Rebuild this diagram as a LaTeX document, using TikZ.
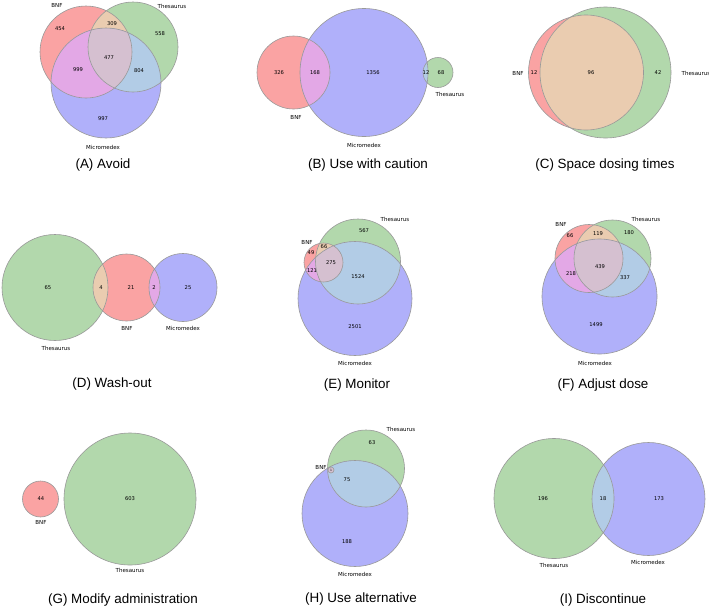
\documentclass[tikz,border=0pt]{standalone}
\usepackage{fontspec}
\setmainfont{Liberation Sans}
\newfontfamily\dvfont{DejaVu Sans}
\definecolor{cR}{RGB}{250,163,163}
\definecolor{cG}{RGB}{178,216,172}
\definecolor{cB}{RGB}{176,176,250}
\definecolor{cRG}{RGB}{234,204,176}
\definecolor{cRB}{RGB}{227,168,230}
\definecolor{cGB}{RGB}{178,204,230}
\definecolor{cRGB}{RGB}{213,192,208}
\tikzset{
  edgeline/.style={draw=gray!80, line width=0.6pt},
  num/.style={font=\dvfont\fontsize{5.2}{6}\selectfont, inner sep=0pt},
  setlabel/.style={font=\dvfont\fontsize{5.5}{6.5}\selectfont, inner sep=0pt},
  paneltitle/.style={font=\fontsize{13.4}{15}\selectfont, inner sep=0pt},
}
% three sets: red (x1,y1,r1), green (x2,y2,r2), blue (x3,y3,r3)
\newcommand\vthree[9]{%
  \fill[cR] (#1,#2) circle (#3pt);
  \fill[cG] (#4,#5) circle (#6pt);
  \fill[cB] (#7,#8) circle (#9pt);
  \begin{scope}\clip (#1,#2) circle (#3pt); \fill[cRG] (#4,#5) circle (#6pt); \end{scope}
  \begin{scope}\clip (#1,#2) circle (#3pt); \fill[cRB] (#7,#8) circle (#9pt); \end{scope}
  \begin{scope}\clip (#4,#5) circle (#6pt); \fill[cGB] (#7,#8) circle (#9pt); \end{scope}
  \begin{scope}\clip (#1,#2) circle (#3pt); \clip (#4,#5) circle (#6pt); \fill[cRGB] (#7,#8) circle (#9pt); \end{scope}
  \draw[edgeline] (#1,#2) circle (#3pt);
  \draw[edgeline] (#4,#5) circle (#6pt);
  \draw[edgeline] (#7,#8) circle (#9pt);
}
% two sets: colours c1, c2, c12, then circles
\newcommand\vtwo[9]{%
  \fill[#1] (#4,#5) circle (#6pt);
  \fill[#2] (#7,#8) circle (#9pt);
  \begin{scope}\clip (#4,#5) circle (#6pt); \fill[#3] (#7,#8) circle (#9pt); \end{scope}
  \draw[edgeline] (#4,#5) circle (#6pt);
  \draw[edgeline] (#7,#8) circle (#9pt);
}
\begin{document}
\begin{tikzpicture}[x=1pt,y=-1pt]
\useasboundingbox[fill=white] (0,0) rectangle (709,608);

% ---------- (A) Avoid
\vthree{86}{52}{46}{133}{47}{45}{106}{83}{55}
\node[setlabel] (aBNF) at (57,5) {BNF};
\node[setlabel] (aThe) at (172,6) {Thesaurus};
\node[setlabel] (aMic) at (103,147) {Micromedex};
\node[num] (a454) at (60,29) {454};
\node[num] (a309) at (112,24) {309};
\node[num] (a558) at (160,34) {558};
\node[num] (a999) at (78,70) {999};
\node[num] (a477) at (109,58) {477};
\node[num] (a804) at (139,71) {804};
\node[num] (a997) at (103,119) {997};
\node[paneltitle] (aT) at (103,165) {(A) Avoid};

% ---------- (B) Use with caution
\vthree{293.5}{72.5}{36.5}{438}{72.5}{15}{364}{72.5}{64}
\node[setlabel] (bBNF) at (296,117) {BNF};
\node[setlabel] (bMic) at (364,145) {Micromedex};
\node[setlabel] (bThe) at (450,94) {Thesaurus};
\node[num] (b326) at (279,73) {326};
\node[num] (b168) at (315,73) {168};
\node[num] (b1356) at (373,73) {1356};
\node[num] (b12) at (426,73) {12};
\node[num] (b68) at (441,73) {68};
\node[paneltitle] (bT) at (368,165) {(B) Use with caution};

% ---------- (C) Space dosing times
\vtwo{cR}{cG}{cRG}{586}{72.5}{57.5}{605.5}{72.5}{65.5}
\node[setlabel] (cBNF) at (518,73) {BNF};
\node[setlabel] (cThe) at (696,73) {Thesaurus};
\node[num] (c12) at (534,73) {12};
\node[num] (c96) at (591,73) {96};
\node[num] (c42) at (658,73) {42};
\node[paneltitle] (cT) at (605,165) {(C) Space dosing times};

% ---------- (D) Wash-out
\vthree{126.5}{287.5}{33.5}{55}{287.5}{53}{183}{287.5}{34}
\node[setlabel] (dThe) at (56,348) {Thesaurus};
\node[setlabel] (dBNF) at (127,328) {BNF};
\node[setlabel] (dMic) at (183,328) {Micromedex};
\node[num] (d65) at (48,288) {65};
\node[num] (d4) at (101,288) {4};
\node[num] (d21) at (131,288) {21};
\node[num] (d2) at (154,288) {2};
\node[num] (d25) at (188,288) {25};
\node[paneltitle] (dT) at (112,384) {(D) Wash-out};

% ---------- (E) Monitor
\vthree{323.5}{262.5}{19.5}{358}{261.5}{42.5}{355}{298.5}{57}
\node[setlabel] (eThe) at (395,219) {Thesaurus};
\node[setlabel] (eBNF) at (307,242) {BNF};
\node[setlabel] (eMic) at (355,363) {Micromedex};
\node[num] (e567) at (364,231) {567};
\node[num] (e66) at (324,247) {66};
\node[num] (e49) at (311,253) {49};
\node[num] (e275) at (331,263) {275};
\node[num] (e121) at (312,271) {121};
\node[num] (e1524) at (358,277) {1524};
\node[num] (e2501) at (355,327) {2501};
\node[paneltitle] (eT) at (357,385) {(E) Monitor};

% ---------- (F) Adjust dose
\vthree{589}{258.5}{34}{612.5}{258.5}{38.5}{599.5}{296.5}{57.5}
\node[setlabel] (fBNF) at (561,224) {BNF};
\node[setlabel] (fThe) at (646,219) {Thesaurus};
\node[setlabel] (fMic) at (595,363) {Micromedex};
\node[num] (f66) at (570,236) {66};
\node[num] (f119) at (598,234) {119};
\node[num] (f180) at (629,233) {180};
\node[num] (f439) at (600,267) {439};
\node[num] (f218) at (571,274) {218};
\node[num] (f337) at (625,278) {337};
\node[num] (f1499) at (596,325) {1499};
\node[paneltitle] (fT) at (603,385) {(F) Adjust dose};

% ---------- (G) Modify administration
\vtwo{cR}{cG}{cRG}{40.5}{499}{18}{130}{499}{66}
\node[setlabel] (gBNF) at (41,522) {BNF};
\node[setlabel] (gThe) at (130,570) {Thesaurus};
\node[num] (g44) at (41,499) {44};
\node[num] (g603) at (130,499) {603};
\node[paneltitle] (gT) at (123,600) {(G) Modify administration};

% ---------- (H) Use alternative
\vthree{331}{470}{3}{366}{468.5}{38.5}{355}{513.5}{53}
\node[setlabel] (hThe) at (401,429) {Thesaurus};
\node[setlabel] (hBNF) at (321,467) {BNF};
\node[setlabel] (hMic) at (355,574) {Micromedex};
\node[num] (h63) at (372,443) {63};
\node[num,font=\dvfont\fontsize{3}{4}\selectfont] (h1) at (331,470) {1};
\node[num] (h75) at (347,480) {75};
\node[num] (h188) at (347,542) {188};
\node[paneltitle] (hT) at (361,599) {(H) Use alternative};

% ---------- (I) Discontinue
\vtwo{cG}{cB}{cGB}{554}{498.5}{60}{648.5}{499}{56.5}
\node[setlabel] (iThe) at (554,565) {Thesaurus};
\node[setlabel] (iMic) at (648,562) {Micromedex};
\node[num] (i196) at (543,499) {196};
\node[num] (i18) at (603,499) {18};
\node[num] (i173) at (659,499) {173};
\node[paneltitle] (iT) at (603,600) {(I) Discontinue};
\end{tikzpicture}
\end{document}
